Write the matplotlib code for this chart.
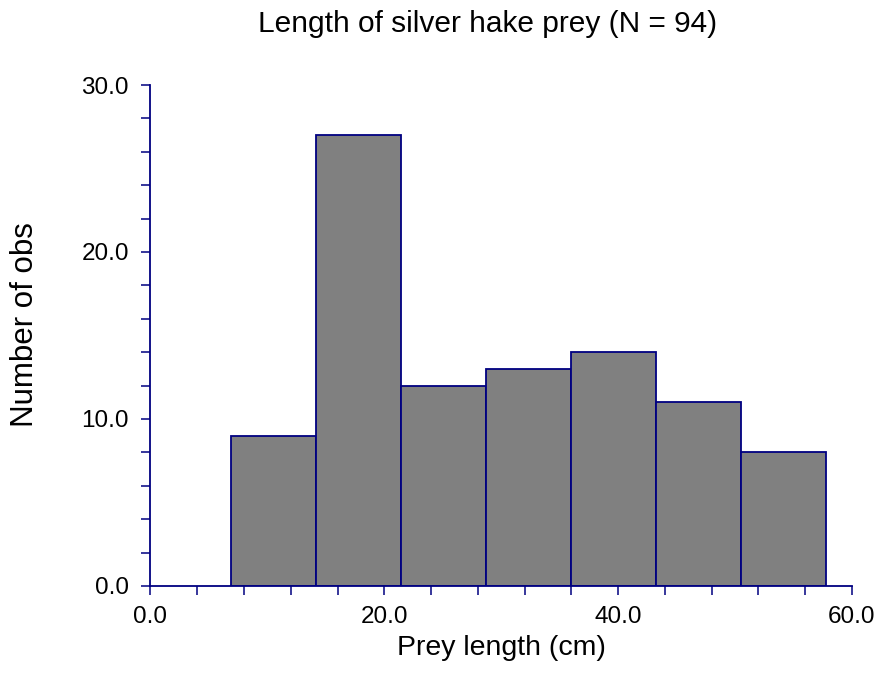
import matplotlib.pyplot as plt
from matplotlib.ticker import MultipleLocator, FormatStrFormatter

# histogram of prey lengths
bin_edges = [6.85, 14.13, 21.41, 28.69, 35.97, 43.25, 50.53, 57.81]
counts = [9, 27, 12, 13, 14, 11, 8]
title = "Length of silver hake prey (N = 94)"

navy = "#000080"
plt.rcParams["font.family"] = ["Liberation Sans", "DejaVu Sans"]

fig = plt.figure(figsize=(8.8, 6.75), dpi=100)
ax = fig.add_axes([0.171, 0.132, 0.797, 0.742])

lefts = bin_edges[:-1]
widths = [b - a for a, b in zip(bin_edges[:-1], bin_edges[1:])]
ax.bar(lefts, counts, width=widths, align="edge", color="#808080",
       edgecolor=navy, linewidth=1.3, zorder=2)

ax.set_xlim(0, 60)
ax.set_ylim(0, 30)
ax.xaxis.set_major_locator(MultipleLocator(20))
ax.xaxis.set_minor_locator(MultipleLocator(4))
ax.yaxis.set_major_locator(MultipleLocator(10))
ax.yaxis.set_minor_locator(MultipleLocator(2))
ax.xaxis.set_major_formatter(FormatStrFormatter("%.1f"))
ax.yaxis.set_major_formatter(FormatStrFormatter("%.1f"))

for side in ("top", "right"):
    ax.spines[side].set_visible(False)
for side in ("left", "bottom"):
    ax.spines[side].set_color(navy)
    ax.spines[side].set_linewidth(1.3)

ax.tick_params(which="both", direction="out", color=navy, length=6.5, width=1.1)
ax.tick_params(axis="y", which="major", labelsize=17.5, pad=9)
ax.tick_params(axis="x", which="major", labelsize=17.5, pad=8)

ax.set_xlabel("Prey length (cm)", fontsize=20.5, labelpad=5)
fig.text(25 / 880, 1 - 325 / 675, "Number of obs", fontsize=22.5,
         rotation=90, ha="center", va="center")
fig.text(488 / 880, 1 - 24 / 675, title, fontsize=21.5, ha="center", va="center")

fig.savefig("out.png", dpi=100)
